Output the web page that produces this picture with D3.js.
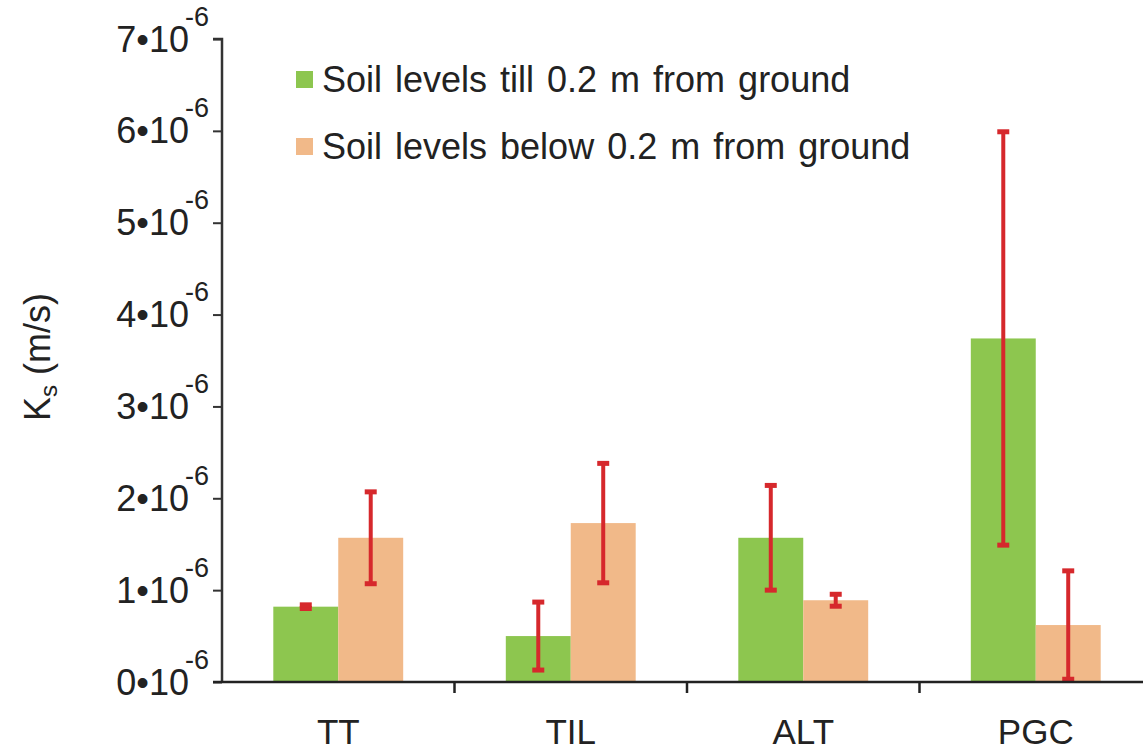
<!DOCTYPE html>
<html>
<head>
<meta charset="utf-8">
<script src="https://cdn.jsdelivr.net/npm/d3@7"></script>
<style>
  body { margin: 0; background: #fff; }
  text { font-family: "Liberation Sans", Arial, sans-serif; fill: #222; }
</style>
</head>
<body>
<div id="chart-area"></div>
<script>
const categories = ["TT", "TIL", "ALT", "PGC"]
const series = ["Soil levels till 0.2 m from ground", "Soil levels below 0.2 m from ground"]
// values in 1e-6 m/s
const upperMeans = [0.82, 0.50, 1.57, 3.74]
const upperErr = [0.02, 0.37, 0.57, 2.25]
const lowerMeans = [1.57, 1.73, 0.89, 0.62]
const lowerErr = [0.50, 0.65, 0.065, 0.59]
const yTicks = [0, 1, 2, 3, 4, 5, 6, 7]
const colors = ["#8dc64f", "#f1b989"]

const W = 1143, H = 753
const MARGIN = { LEFT: 222, TOP: 39, BOTTOM: 71 }
const HEIGHT = H - MARGIN.TOP - MARGIN.BOTTOM

const svg = d3.select("#chart-area").append("svg")
  .attr("width", W)
  .attr("height", H)

const g = svg.append("g")
  .attr("transform", `translate(${MARGIN.LEFT}, ${MARGIN.TOP})`)

const data = categories.map((c, i) => ({
  cat: c,
  vals: [
    { s: series[0], v: upperMeans[i], e: upperErr[i], k: 0 },
    { s: series[1], v: lowerMeans[i], e: lowerErr[i], k: 1 }
  ]
}))

const x = d3.scaleBand()
  .domain(categories)
  .range([0, 930])
  .padding(0)

const x1 = d3.scaleBand()
  .domain(series)
  .range([0, x.bandwidth()])
  .paddingInner(0)
  .paddingOuter(0.79)

const y = d3.scaleLinear()
  .domain([0, 7])
  .range([HEIGHT, 0])

// bars
const groups = g.selectAll(".cat")
  .data(data)
  .enter().append("g")
  .attr("class", "cat")
  .attr("transform", d => `translate(${x(d.cat)}, 0)`)

groups.selectAll("rect")
  .data(d => d.vals)
  .enter().append("rect")
  .attr("x", d => x1(d.s))
  .attr("y", d => y(d.v))
  .attr("width", x1.bandwidth())
  .attr("height", d => HEIGHT - y(d.v))
  .attr("fill", d => colors[d.k])

// error bars
const err = groups.selectAll(".err")
  .data(d => d.vals)
  .enter().append("g")
  .attr("class", "err")
  .attr("transform", d => `translate(${x1(d.s) + x1.bandwidth() / 2}, 0)`)

err.append("line")
  .attr("y1", d => y(d.v - d.e))
  .attr("y2", d => y(d.v + d.e))
  .attr("stroke", "#d6282c")
  .attr("stroke-width", 4)

err.selectAll(".cap")
  .data(d => [d.v - d.e, d.v + d.e])
  .enter().append("line")
  .attr("class", "cap")
  .attr("x1", -6).attr("x2", 6)
  .attr("y1", d => y(d)).attr("y2", d => y(d))
  .attr("stroke", "#d6282c")
  .attr("stroke-width", 5)

// y axis
const yAxisCall = d3.axisLeft(y)
  .tickValues(yTicks)
  .tickSize(9)
  .tickFormat("")

const yAxis = g.append("g")
  .attr("class", "y axis")
  .call(yAxisCall)
yAxis.select(".domain").attr("stroke", "#333").attr("stroke-width", 2.5)
  .attr("d", `M-9,0H0V${HEIGHT}`)
yAxis.selectAll(".tick line").attr("stroke", "#333").attr("stroke-width", 2)

yAxis.selectAll(".tick").append("text")
  .attr("x", -33)
  .attr("y", 12)
  .attr("text-anchor", "end")
  .style("font-size", "36px")
  .text(d => d + "\u202210")
yAxis.selectAll(".tick").append("text")
  .attr("x", -13)
  .attr("y", -14)
  .attr("text-anchor", "end")
  .style("font-size", "27px")
  .text("-6")

// x axis
const xAxisCall = d3.axisBottom(x)
  .tickSize(0)

const xAxis = g.append("g")
  .attr("class", "x axis")
  .attr("transform", `translate(0, ${HEIGHT})`)
  .call(xAxisCall)
xAxis.select(".domain").attr("stroke", "#222").attr("stroke-width", 2.5)
  .attr("d", `M-9,0H${W}`)
xAxis.selectAll(".tick text")
  .attr("dy", null)
  .attr("y", 62)
  .style("font-size", "35px")
  .attr("fill", "#222")

// category separators
xAxis.selectAll(".sep")
  .data(categories.slice(1))
  .enter().append("line")
  .attr("class", "sep")
  .attr("x1", d => x(d)).attr("x2", d => x(d))
  .attr("y1", 0).attr("y2", 11)
  .attr("stroke", "#222")
  .attr("stroke-width", 2.5)

// Y label
const ylab = svg.append("text")
  .attr("transform", `translate(50, 357) rotate(-90)`)
  .attr("text-anchor", "middle")
  .style("font-size", "36px")
ylab.append("tspan").text("K")
ylab.append("tspan").attr("dy", 7).style("font-size", "24px").text("s")
ylab.append("tspan").attr("dy", -7).text(" (m/s)")

// legend
const legend = svg.append("g")
  .attr("transform", "translate(296, 71)")
series.forEach((s, i) => {
  const row = legend.append("g").attr("transform", `translate(0, ${i * 67})`)
  row.append("rect")
    .attr("width", 17).attr("height", 17)
    .attr("fill", colors[i])
  row.append("text")
    .attr("x", 26).attr("y", 21)
    .style("font-size", "36px")
    .style("word-spacing", "3px")
    .text(s)
})
</script>
</body>
</html>
